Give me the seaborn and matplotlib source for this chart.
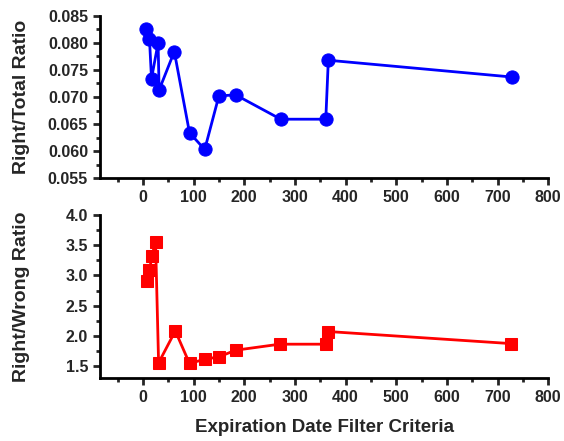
import numpy as np
import pandas as pd
import seaborn as sns
from matplotlib import pyplot as plt
from matplotlib.ticker import MultipleLocator

# values
days_total = [7, 13, 17, 30, 32, 62, 92, 122, 150, 183, 272, 361, 366, 728]
right_total = [0.0826, 0.0807, 0.0734, 0.0800, 0.0713, 0.0784, 0.0634, 0.0603,
               0.0702, 0.0704, 0.0659, 0.0659, 0.0768, 0.0737]

days_wrong = [8, 13, 18, 25, 31, 64, 92, 122, 150, 183, 270, 361, 366, 726]
right_wrong = [2.91, 3.09, 3.33, 3.56, 1.55, 2.08, 1.54, 1.61, 1.65, 1.76,
               1.86, 1.86, 2.07, 1.87]

x_ticks = [0, 100, 200, 300, 400, 500, 600, 700, 800]

sns.set_style('ticks')
plt.rcParams['font.family'] = ['Liberation Sans', 'DejaVu Sans']
plt.rcParams['font.weight'] = 'bold'

df_top = pd.DataFrame({'days': days_total, 'ratio': right_total})
df_bot = pd.DataFrame({'days': days_wrong, 'ratio': right_wrong})

fig = plt.figure(figsize=(5.64, 4.41), dpi=100)
ax1 = fig.add_axes([0.177, 0.596, 0.795, 0.368])
ax2 = fig.add_axes([0.177, 0.143, 0.795, 0.369])

sns.lineplot(data=df_top, x='days', y='ratio', ax=ax1, sort=False, estimator=None,
             color='#0000ff', linewidth=2, marker='o', markersize=9.5,
             markeredgecolor='#0000ff')
sns.lineplot(data=df_bot, x='days', y='ratio', ax=ax2, sort=False, estimator=None,
             color='#ff0000', linewidth=2, marker='s', markersize=8.5,
             markeredgecolor='#ff0000')

for ax in [ax1, ax2]:
    ax.set_xlim(-85, 800)
    ax.set_xticks(x_ticks)
    ax.xaxis.set_minor_locator(MultipleLocator(50))
    for side in ['top', 'right']:
        ax.spines[side].set_visible(False)
    for side in ['left', 'bottom']:
        ax.spines[side].set_linewidth(2)
        ax.spines[side].set_color('black')
    ax.tick_params(which='major', length=5, width=2, labelsize=11.5, direction='out')
    ax.tick_params(which='minor', length=3, width=2, direction='out')
    for lbl in ax.get_xticklabels() + ax.get_yticklabels():
        lbl.set_fontweight('bold')
    ax.set_xlabel('')

ax1.set_ylim(0.055, 0.085)
ax1.yaxis.set_minor_locator(MultipleLocator(0.0025))
ax1.set_yticks(np.arange(0.055, 0.0851, 0.005))
ax1.set_yticklabels([f'{v:.3f}' for v in np.arange(0.055, 0.0851, 0.005)], fontweight='bold')
ax1.set_ylabel('Right/Total Ratio', fontsize=14, fontweight='bold')

ax2.set_ylim(1.3, 4.0)
ax2.set_yticks([1.5, 2.0, 2.5, 3.0, 3.5, 4.0])
ax2.set_yticklabels(['1.5', '2.0', '2.5', '3.0', '3.5', '4.0'], fontweight='bold')
ax2.yaxis.set_minor_locator(MultipleLocator(0.25))
ax2.set_ylabel('Right/Wrong Ratio', fontsize=14, fontweight='bold')
ax2.set_xlabel('Expiration Date Filter Criteria', fontsize=13.5, fontweight='bold', labelpad=10)

for ax in [ax1, ax2]:
    ax.yaxis.set_label_coords(-0.155, 0.5)

fig.savefig('out.png', dpi=100)
